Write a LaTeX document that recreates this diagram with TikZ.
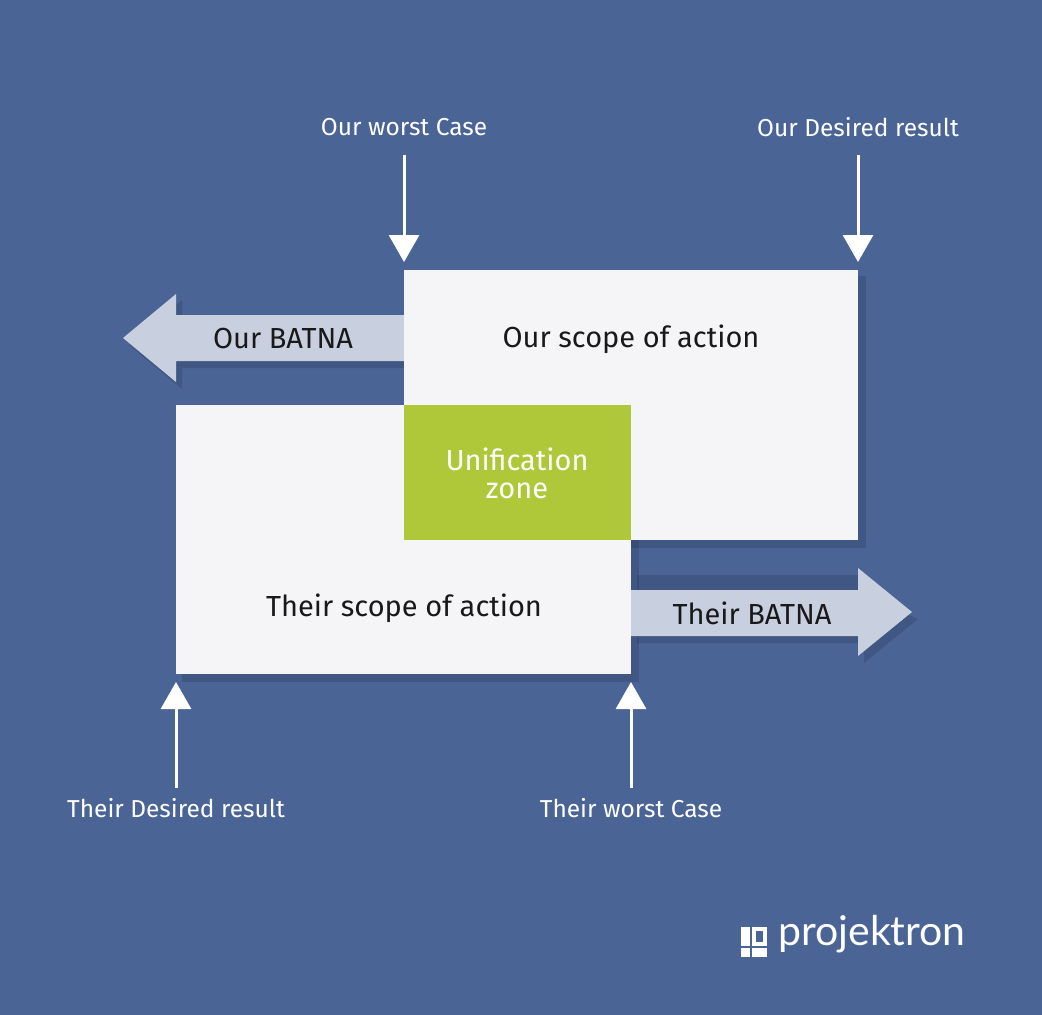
\documentclass[tikz,border=0pt]{standalone}
\usepackage{fontspec}
\setmainfont{Fira Sans}
\newfontfamily\logofont{Lato}
\begin{document}
\begin{tikzpicture}[x=1pt,y=-1pt,
  lbl/.style={text=white,font=\fontsize{24.5}{26}\selectfont},
  boxtxt/.style={text=black!90,font=\fontsize{29}{34}\selectfont,align=center},
  pointer/.style={draw=white,line width=3pt,-{Triangle[width=30pt,length=27pt]}},
  shade/.style={fill=black,opacity=0.12}]
\usetikzlibrary{arrows.meta}
\definecolor{bg}{HTML}{4A6496}
\definecolor{boxc}{HTML}{F5F5F7}
\definecolor{arr}{HTML}{C8D0E0}
\definecolor{zone}{HTML}{AEC83A}
\fill[bg] (0,0) rectangle (1042,1015);
% shadows
\fill[shade] (410,276) rectangle (866,548);
\fill[shade] (182,411) rectangle (639,682);
\fill[shade] (637,575) -- (864,575) -- (864,596) -- (918,619) -- (864,663) -- (864,643) -- (637,643) -- cycle;
\fill[shade] (129,345) -- (182,300) -- (182,321) -- (404,321) -- (404,368) -- (182,368) -- (182,389) -- cycle;
% BATNA arrows
\fill[arr] (123,338) -- (176,294) -- (176,315) -- (404,315) -- (404,361) -- (176,361) -- (176,382) -- cycle;
\fill[arr] (631,590) -- (858,590) -- (858,568) -- (912,612) -- (858,656) -- (858,636) -- (631,636) -- cycle;
% boxes
\fill[boxc] (404,270) rectangle (858,540);
\fill[boxc] (176,405) rectangle (631,674);
\fill[zone] (404,405) rectangle (631,540);
\node[boxtxt] (ours) at (631,339) {Our scope of action};
\node[boxtxt] (theirs) at (404,608) {Their scope of action};
\node[boxtxt,text=white] (uz) at (517,473) {Unification\\[-6pt]zone};
\node[boxtxt] (ob) at (283,339) {Our BATNA};
\node[boxtxt] (tb) at (752,613) {Their BATNA};
% labels and pointers
\node[lbl] (owc) at (404,127) {Our worst Case};
\node[lbl] (odr) at (858,127) {Our Desired result};
\node[lbl] (tdr) at (176,808) {Their Desired result};
\node[lbl] (twc) at (631,808) {Their worst Case};
\coordinate (p1) at (404,262); \coordinate (p2) at (858,262);
\coordinate (p3) at (176,682); \coordinate (p4) at (631,682);
\draw[pointer] (404,155) -- (p1);
\draw[pointer] (858,155) -- (p2);
\draw[pointer] (176,788) -- (p3);
\draw[pointer] (631,788) -- (p4);
% logo
\fill[white] (741,927) rectangle (750,946);
\fill[white] (752,927) rectangle (767,946);
\fill[bg] (756,931) rectangle (763,942);
\fill[white] (741,948) rectangle (750,957);
\fill[white] (752,948) rectangle (767,957);
\node[anchor=west,text=white,font=\logofont\fontsize{41}{44}\selectfont,inner sep=0] (logo) at (778,934) {projektron};
\end{tikzpicture}
\end{document}
